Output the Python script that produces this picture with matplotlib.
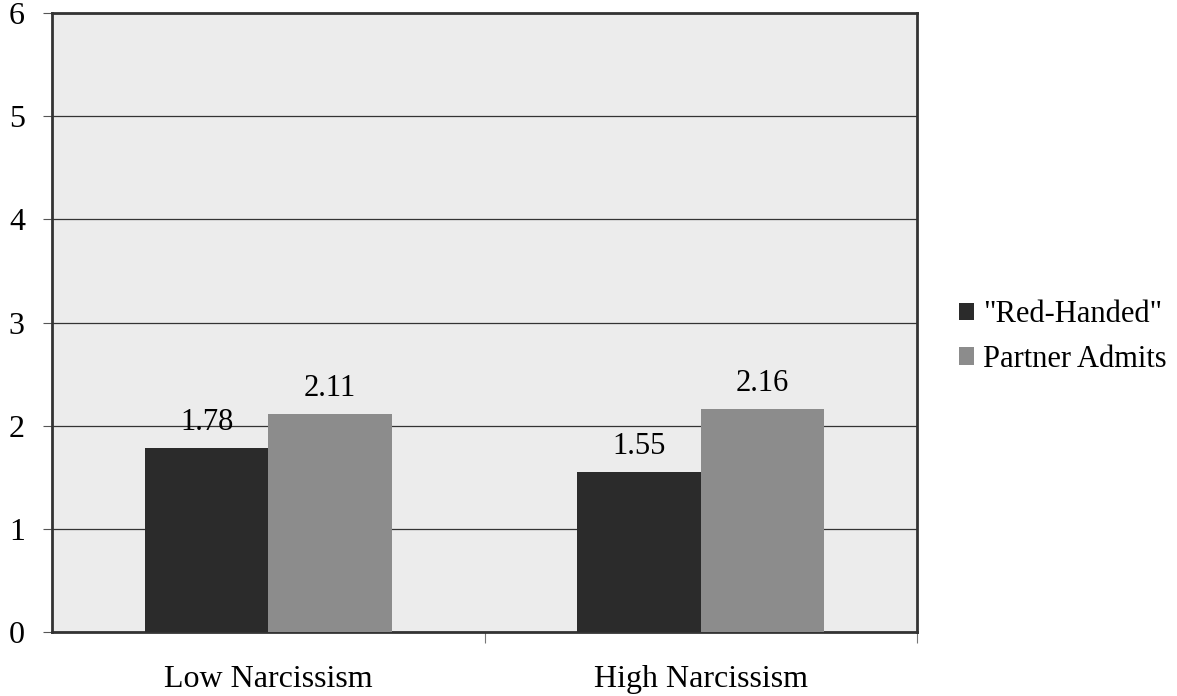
import numpy as np
import matplotlib.pyplot as plt

# dados
categorias = ['Low Narcissism', 'High Narcissism']
series = ['"Red-Handed"', 'Partner Admits']
red_handed = [1.78, 1.55]
partner_admits = [2.11, 2.16]
cores = ['#2b2b2b', '#8c8c8c']

plt.rcParams['font.family'] = ['Liberation Serif', 'DejaVu Serif']

fig = plt.figure(figsize=(11.77, 6.96), dpi=100)
ax = fig.add_axes([52 / 1177, 64 / 696, 865 / 1177, 619 / 696])
ax.set_facecolor('#ececec')

x = np.arange(len(categorias))
largura = 0.285
b1 = ax.bar(x - largura / 2, red_handed, largura, color=cores[0], label=series[0], zorder=3)
b2 = ax.bar(x + largura / 2, partner_admits, largura, color=cores[1], label=series[1], zorder=3)

for barras in (b1, b2):
    for b in barras:
        ax.annotate(f'{b.get_height():.2f}', (b.get_x() + b.get_width() / 2, b.get_height()),
                    xytext=(0, 8), textcoords='offset points', ha='center', va='bottom',
                    fontsize=22, zorder=4)

ax.set_xlim(-0.5, 1.5)
ax.set_ylim(0, 6)
ax.set_yticks(range(7))
ax.yaxis.grid(True, color='#333333', linewidth=0.9, zorder=1)
ax.tick_params(axis='y', labelsize=23, length=6.5, width=0.8, color='#555555', pad=13)

ax.set_xticks(x)
ax.set_xticklabels(categorias, fontsize=23)
ax.set_xticks([0.5, 1.5], minor=True)
ax.tick_params(axis='x', which='major', length=0, pad=24)
ax.tick_params(axis='x', which='minor', length=8, width=0.8, color='#777777')

for s in ax.spines.values():
    s.set_linewidth(2)
    s.set_color('#333333')

fig.legend(handles=[b1, b2], labels=series, loc='center left',
           bbox_to_anchor=(959 / 1177, 1 - 337 / 696), frameon=False,
           fontsize=22, handlelength=0.5, handleheight=0.5, handletextpad=0.3,
           labelspacing=0.5, borderpad=0, borderaxespad=0)

fig.savefig('out.png', dpi=100)
